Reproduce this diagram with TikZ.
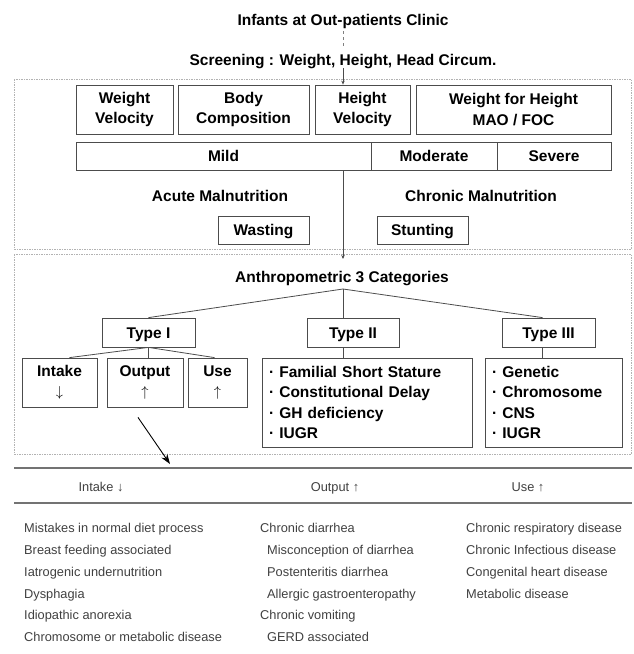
\documentclass[tikz,border=0pt]{standalone}
\usepackage{fontspec}
\setmainfont{Liberation Sans}
\usepackage{tikz}
\usetikzlibrary{arrows.meta, positioning}

\newcommand{\bigfont}{\fontsize{15.5}{20.5}\selectfont\bfseries}
\newcommand{\tblfont}{\fontsize{12.8}{15}\selectfont}

\begin{document}
\begin{tikzpicture}[x=1pt, y=-1pt,
    box/.style={draw=black!70, line width=0.8pt, rectangle, align=center, inner sep=0pt, font=\bigfont},
    oneline/.style={text height=11.5pt, text depth=0.5pt},
    listbox/.style={box, align=left, inner xsep=7pt, minimum height=89pt},
    lbl/.style={font=\bigfont, inner sep=2pt, oneline},
    frame/.style={draw=black!30, line width=0.6pt, dash pattern=on 1.5pt off 1pt},
    rule/.style={draw=black!55, line width=1.6pt},
    tbl/.style={font=\tblfont, text=black!75, anchor=west, inner sep=0pt, text height=9.4pt, text depth=0pt},
    head/.style={tbl, anchor=center},
    link/.style={draw=black!70, line width=0.8pt},
    ]
    \useasboundingbox (0,0) rectangle (634,654);

    % screening
    \node[lbl] (clinic) at (343,20) {Infants at Out-patients Clinic};
    \node[lbl] (screen) at (343,60) {Screening : Weight, Height, Head Circum.};

    % panels
    \draw[frame] (14,79) rectangle (631,249);
    \draw[frame] (14,254) rectangle (631,454);

    % measures
    \node[box, minimum width=97pt, minimum height=49pt] (wv) at (124.5,109.5) {Weight\\Velocity};
    \node[box, minimum width=131pt, minimum height=49pt] (bc) at (243.5,109.5) {Body\\Composition};
    \node[box, minimum width=95pt, minimum height=49pt] (hv) at (362.5,109.5) {Height\\Velocity};
    \node[box, minimum width=195pt, minimum height=49pt] (wfh) at (513.5,109.5) {Weight for Height\\MAO / FOC};

    \node[box, oneline, minimum width=295pt, minimum height=28pt] (mild) at (223.5,156) {Mild};
    \node[box, oneline, minimum width=126pt, minimum height=28pt] (moderate) at (434,156) {Moderate};
    \node[box, oneline, minimum width=114pt, minimum height=28pt] (severe) at (554,156) {Severe};

    \node[lbl] (acute) at (220,196) {Acute Malnutrition};
    \node[lbl] (chronic) at (481,196) {Chronic Malnutrition};
    \node[box, oneline, minimum width=91pt, minimum height=28pt] (wasting) at (263.5,230) {Wasting};
    \node[box, oneline, minimum width=91pt, minimum height=28pt] (stunting) at (422.5,230) {Stunting};

    % categories
    \node[lbl] (anthro) at (342,277) {Anthropometric 3 Categories};
    \coordinate (catin) at (343,259);
    \coordinate (apex) at (343,289);

    \node[box, oneline, minimum width=93pt, minimum height=29pt] (t1) at (148.5,332.5) {Type I};
    \node[box, oneline, minimum width=92pt, minimum height=29pt] (t2) at (353,332.5) {Type II};
    \node[box, oneline, minimum width=93pt, minimum height=29pt] (t3) at (548.5,332.5) {Type III};

    \node[box, minimum width=75pt, minimum height=49pt] (intake) at (59.5,382.5) {Intake\\$\downarrow$};
    \node[box, minimum width=76pt, minimum height=49pt] (output) at (145,382.5) {Output\\$\uparrow$};
    \node[box, minimum width=59pt, minimum height=49pt] (use) at (217.5,382.5) {Use\\$\uparrow$};

    \node[listbox, text width=196pt] (l2) at (367,402.5)
        {· Familial Short Stature\\· Constitutional Delay\\· GH deficiency\\· IUGR};
    \node[listbox, text width=123pt] (l3) at (553.5,402.5)
        {· Genetic\\· Chromosome\\· CNS\\· IUGR};

    % connectors
    \draw[link, black!50, line width=0.5pt, dashed, shorten <=3pt, shorten >=6pt] (clinic.south) -- (screen.north);
    \draw[link, -{Stealth[length=4pt, width=3.5pt]}] (screen.south) -- (screen.south |- hv.north);
    \draw[link, -{Stealth[length=4pt, width=3.5pt]}] (mild.south -| catin) -- (catin);
    \draw[link] (apex) -- (t1.north);
    \draw[link] (apex) -- (apex |- t2.north);
    \draw[link] (apex) -- ([xshift=-6pt]t3.north);
    \draw[link] (apex |- t2.south) -- (apex |- l2.north);
    \draw[link] ([xshift=-6pt]t3.south) -- ([xshift=-6pt]t3.south |- l3.north);
    \draw[link] (t1.south) -- ([xshift=10pt]intake.north);
    \draw[link] (t1.south) -- (t1.south |- output.north);
    \draw[link] (t1.south) -- ([xshift=-3pt]use.north);

    \coordinate (tblin) at (170,464);
    \draw[link, black, line width=0.9pt, -{Stealth[length=10pt, width=7pt]}] ([shift={(-7,10)}]output.south) -- (tblin);

    % table
    \draw[rule] (14,468) -- (632,468);
    \draw[rule] (14,503) -- (632,503);
    \node[head] (hintake) at (101,487) {Intake ↓};
    \node[head] (houtput) at (335,487) {Output ↑};
    \node[head] (huse) at (528,487) {Use ↑};

    \foreach \txt [count=\i from 0] in {Mistakes in normal diet process, Breast feeding associated,
        Iatrogenic undernutrition, Dysphagia, Idiopathic anorexia, Chromosome or metabolic disease}
        \node[tbl] (cin-\i) at (24, 528+21.8*\i) {\txt};
    \foreach \x/\txt [count=\i from 0] in {260/Chronic diarrhea, 267/Misconception of diarrhea,
        267/Postenteritis diarrhea, 267/Allergic gastroenteropathy, 260/Chronic vomiting, 267/GERD associated}
        \node[tbl] (cout-\i) at (\x, 528+21.8*\i) {\txt};
    \foreach \txt [count=\i from 0] in {Chronic respiratory disease, Chronic Infectious disease,
        Congenital heart disease, Metabolic disease}
        \node[tbl] (cuse-\i) at (466, 528+21.8*\i) {\txt};
\end{tikzpicture}
\end{document}
